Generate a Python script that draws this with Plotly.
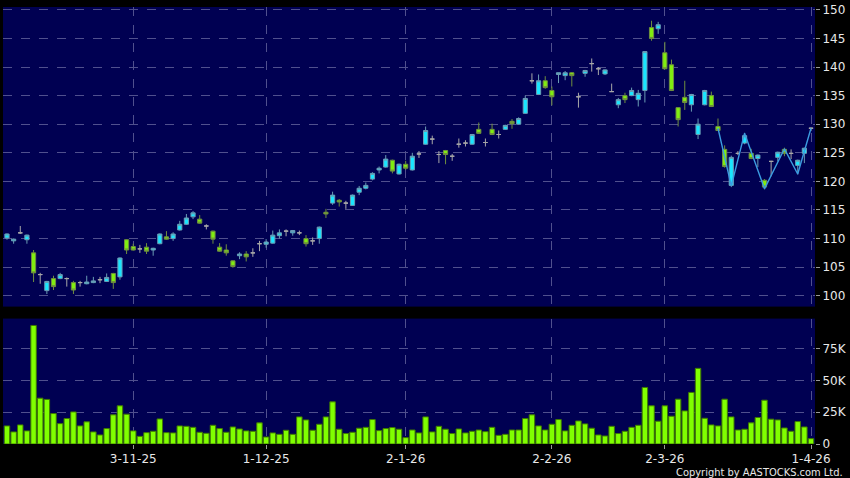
import plotly.graph_objects as go

# ---------------- data ----------------
idx = list(range(122))

opens = [110.1,109.6,111.0,109.8,107.5,103.7,100.9,103.0,103.0,103.0,
         102.3,102.3,102.1,102.3,102.8,102.5,103.9,103.3,109.8,108.6,
         108.2,108.5,108.0,109.1,110.3,110.0,111.5,112.5,113.8,113.4,
         112.2,111.3,108.5,108.0,106.1,107.0,107.3,107.5,109.1,109.0,
         109.2,110.5,111.3,111.0,111.0,110.0,109.6,110.0,114.6,116.2,
         116.7,116.2,115.8,118.1,118.8,120.4,122.0,122.5,123.7,121.3,
         123.0,122.0,124.8,126.5,127.4,124.7,125.4,124.4,126.5,126.7,
         126.5,129.1,126.8,129.1,128.2,129.1,130.5,130.0,131.9,137.6,
         135.2,137.6,135.9,138.7,138.5,139.0,134.8,138.9,140.6,139.7,
         138.8,135.7,133.4,135.0,135.0,134.3,135.9,146.9,146.7,142.5,
         140.4,132.9,134.7,133.4,128.2,133.4,135.0,129.6,125.6,119.3,
         124.9,126.7,124.9,124.0,120.2,123.5,124.2,125.6,124.9,122.8,
         124.9,129.3]
highs = [110.9,110.0,112.2,110.7,108.0,104.0,102.6,103.5,104.0,103.2,
         102.6,102.6,103.5,103.3,103.3,103.9,104.0,106.7,109.9,109.1,
         108.9,109.2,108.4,110.9,111.3,111.1,113.1,114.3,114.8,114.1,
         112.5,111.4,109.2,109.0,106.2,107.6,107.8,108.3,109.6,109.9,
         111.4,111.6,111.6,111.5,111.4,110.6,110.2,112.1,115.2,118.2,
         116.9,116.6,117.7,119.2,119.8,121.6,122.6,124.6,123.8,123.1,
         123.6,125.0,125.3,129.6,128.0,125.3,125.5,124.8,127.5,127.2,
         128.3,130.3,127.5,130.1,128.9,129.9,130.9,131.2,135.0,138.9,
         138.7,138.4,136.6,139.0,139.3,139.1,135.5,139.5,141.5,140.0,
         139.6,137.1,134.6,135.5,136.4,136.0,142.8,148.1,147.9,144.4,
         141.3,133.0,137.6,135.3,131.0,136.0,135.7,131.0,126.3,124.5,
         125.3,128.5,125.7,124.7,120.4,123.6,125.2,125.9,125.6,123.8,
         125.9,129.4]
lows = [109.8,109.1,110.8,109.1,102.4,102.1,100.3,101.0,102.9,101.6,
        100.3,101.6,102.0,102.2,102.2,102.4,101.2,102.8,107.3,107.9,
        107.5,107.3,107.0,109.0,109.8,109.6,111.4,112.4,113.4,112.6,
        111.6,109.1,107.7,107.0,104.9,106.4,106.0,106.8,107.8,108.4,
        109.1,110.0,110.4,110.5,110.6,108.6,108.9,109.1,113.6,115.9,
        115.6,115.2,115.7,117.6,118.6,120.2,121.4,122.4,121.4,121.2,
        122.0,121.9,124.1,126.4,126.5,123.2,123.0,123.6,125.9,126.1,
        126.4,128.3,126.1,128.1,127.5,129.0,129.2,129.9,131.8,137.1,
        135.1,136.2,133.3,137.2,137.7,136.6,132.9,138.3,139.2,138.6,
        138.6,135.7,132.8,133.7,134.9,133.1,133.8,144.6,145.8,139.6,
        135.8,129.6,132.5,132.2,127.4,133.3,133.0,128.8,122.4,119.0,
        124.6,126.5,123.9,122.5,118.6,120.9,123.5,124.4,123.9,121.2,
        123.2,128.8]
closes = [110.8,109.9,111.0,110.6,104.0,103.7,102.5,101.6,103.7,103.0,
          101.0,102.3,102.4,102.6,102.8,103.2,102.3,106.6,108.0,108.0,
          108.2,107.8,108.3,110.8,109.9,110.8,112.5,113.6,114.5,112.7,
          112.2,109.9,107.8,107.5,105.1,107.3,106.8,107.5,109.1,109.4,
          110.6,111.0,111.3,111.4,111.0,109.1,109.6,112.0,114.3,117.6,
          116.4,116.2,117.6,118.8,119.3,121.4,122.3,123.9,121.8,123.0,
          122.3,124.4,124.8,128.9,127.4,124.7,124.7,124.4,126.5,126.7,
          128.2,128.4,126.8,128.2,128.2,129.8,130.1,131.0,134.5,137.6,
          137.6,136.4,134.8,139.0,139.0,138.5,134.8,139.4,140.6,139.7,
          139.5,135.7,134.3,134.3,135.9,135.4,142.7,145.0,147.4,139.7,
          135.9,130.8,133.8,135.2,130.0,135.9,133.1,128.9,122.6,124.2,
          124.9,128.0,124.0,124.6,119.0,123.5,125.1,124.9,124.9,123.7,
          125.8,129.3]

volume_k = [14.2,9.5,15.0,10.3,93.1,36.0,35.0,23.9,16.0,20.0,
            25.2,14.2,17.4,9.5,7.1,12.1,22.9,30.0,23.4,10.3,
            6.0,8.9,10.0,19.7,8.9,8.7,14.2,13.9,13.1,9.2,
            8.4,14.7,12.1,9.2,13.4,11.8,10.3,10.0,16.6,5.5,
            8.7,7.6,10.8,7.6,21.3,18.9,10.8,15.5,21.3,33.1,
            11.6,8.2,9.2,12.4,13.1,19.2,10.5,12.1,12.9,11.6,
            5.0,11.0,8.7,21.3,9.5,13.9,11.6,8.2,11.8,8.7,
            10.0,11.0,9.7,13.1,6.8,7.6,11.0,11.0,20.0,22.9,
            14.2,11.0,15.5,19.2,10.3,14.7,18.1,15.8,12.4,7.1,
            6.3,13.9,8.2,10.0,13.1,14.7,44.4,30.0,17.9,30.0,
            21.8,35.2,26.0,40.5,59.4,20.2,15.0,14.2,35.2,21.3,
            11.0,11.6,16.6,20.8,34.4,19.5,18.9,12.6,10.0,17.6,
            13.4,4.2]
volume = [v * 1000 for v in volume_k]

# zig-zag overlay line (last part of chart)
zz_idx = [107, 109, 111, 114, 117, 119, 121]
zz_val = [129.3, 119.2, 128.4, 118.7, 125.7, 121.3, 129.3]

tick_idx = [19, 39, 60, 82, 99, 121]
tick_txt = ["3-11-25", "1-12-25", "2-1-26", "2-2-26", "2-3-26", "1-4-26"]

price_ticks = [100, 105, 110, 115, 120, 125, 130, 135, 140, 145, 150]
vol_ticks = [0, 25000, 50000, 75000]
vol_tick_txt = ["0", "25K", "50K", "75K"]

# ---------------- split candles ----------------
def subset(cond):
    sel = [i for i in idx if cond(opens[i], closes[i])]
    return (sel, [opens[i] for i in sel], [highs[i] for i in sel],
            [lows[i] for i in sel], [closes[i] for i in sel])

CYAN = "#19e6ff"
CYAN_LINE = "#6a9cb4"
GREEN = "#80ee10"
GREEN_LINE = "#6f8f3f"
GRAY = "#a8a8a8"
PLOT_BG = "#000052"
GRID = "#50508e"
TXT = "#e8e8e8"
FONT = "DejaVu Sans"

fig = go.Figure()

for cond, fill, line in [
    (lambda o, c: c > o, CYAN, CYAN_LINE),
    (lambda o, c: c < o, GREEN, GREEN_LINE),
    (lambda o, c: c == o, GRAY, GRAY),
]:
    x, o, h, l, c = subset(cond)
    fig.add_trace(go.Candlestick(
        x=x, open=o, high=h, low=l, close=c,
        increasing=dict(fillcolor=fill, line=dict(color=line, width=1)),
        decreasing=dict(fillcolor=fill, line=dict(color=line, width=1)),
        whiskerwidth=0, showlegend=False, xaxis="x", yaxis="y",
        hoverinfo="skip",
    ))

fig.add_trace(go.Scatter(
    x=zz_idx, y=zz_val, mode="lines",
    line=dict(color="#3b9be0", width=1.4),
    showlegend=False, xaxis="x", yaxis="y", hoverinfo="skip",
))

fig.add_trace(go.Bar(
    x=idx, y=volume, marker=dict(color="#80ff00", line=dict(color="#3f7a00", width=1)),
    showlegend=False, xaxis="x", yaxis="y2", hoverinfo="skip",
))

fig.update_layout(
    width=850, height=478,
    margin=dict(l=3, r=32, t=5, b=34),
    paper_bgcolor="#000000",
    plot_bgcolor=PLOT_BG,
    font=dict(family=FONT, size=12, color=TXT),
    boxgap=0.1,
    bargap=0.18,
    xaxis=dict(
        domain=[0, 1], anchor="y2", range=[-0.6, 121.6],
        tickvals=tick_idx, ticktext=tick_txt,
        showgrid=True, gridcolor=GRID, griddash="dash", gridwidth=1,
        ticks="outside", ticklen=4, tickcolor="#9a9a9a",
        showline=False, zeroline=False,
        rangeslider=dict(visible=False),
        tickfont=dict(size=12, color=TXT, family=FONT),
    ),
    yaxis=dict(
        domain=[0.3144, 1.0], anchor="x", side="right",
        range=[98.1, 150.5], tickvals=price_ticks,
        showgrid=True, gridcolor=GRID, griddash="dash", gridwidth=1,
        ticks="outside", ticklen=4, tickcolor="#9a9a9a",
        zeroline=False, showline=False,
        tickfont=dict(size=12, color=TXT, family=FONT),
    ),
    yaxis2=dict(
        domain=[0.0, 0.287], anchor="x", side="right",
        range=[0, 98500], tickvals=vol_ticks, ticktext=vol_tick_txt,
        showgrid=True, gridcolor=GRID, griddash="dash", gridwidth=1,
        ticks="outside", ticklen=4, tickcolor="#9a9a9a",
        zeroline=False, showline=False,
        tickfont=dict(size=12, color=TXT, family=FONT),
    ),
    annotations=[dict(
        text="Copyright by AASTOCKS.com Ltd.", xref="paper", yref="paper",
        x=1.0, y=0, xanchor="right", yanchor="top", yshift=-20, xshift=30,
        showarrow=False, font=dict(size=11, color=TXT, family="DejaVu Sans Condensed"),
    )],
)

fig.write_html(
    "out.html",
    config={"displayModeBar": False},
    post_script="document.body.style.margin='0';document.body.style.overflow='hidden';",
)
